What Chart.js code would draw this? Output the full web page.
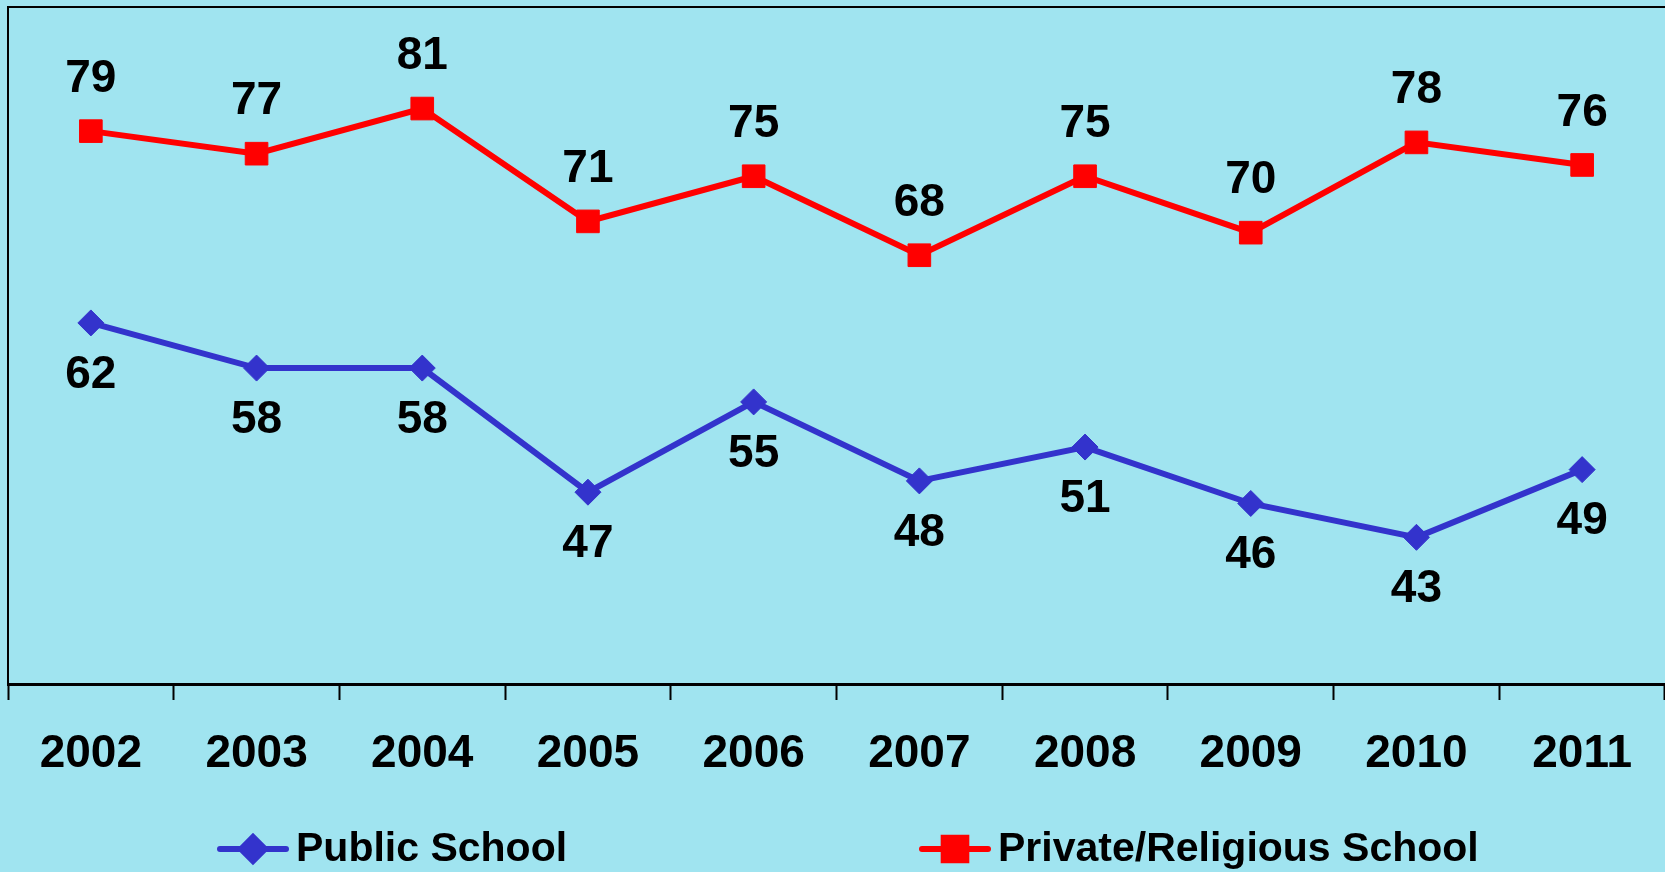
<!DOCTYPE html>
<html>
<head>
<meta charset="utf-8">
<script src="https://cdn.jsdelivr.net/npm/chart.js@4/dist/chart.umd.min.js"></script>
<style>
  html, body { margin: 0; padding: 0; background: #A0E4F0; }
  #wrap { width: 1665px; height: 872px; position: relative; }
</style>
</head>
<body>
<div id="wrap"><canvas id="chart"></canvas></div>
<script>
'use strict';

// chart values
var years = ['2002', '2003', '2004', '2005', '2006', '2007', '2008', '2009', '2010', '2011'];
var publicSchool = [62, 58, 58, 47, 55, 48, 51, 46, 43, 49];
var privateSchool = [79, 77, 81, 71, 75, 68, 75, 70, 78, 76];
var seriesNames = ['Public School', 'Private/Religious School'];

var FONT = '"Liberation Sans", Arial, sans-serif';

// value labels above / below each point
var valueLabels = {
	id: 'valueLabels',
	afterDatasetsDraw: function (chart) {
		var ctx = chart.ctx;
		ctx.save();
		ctx.font = 'bold 46px ' + FONT;
		ctx.fillStyle = '#000';
		ctx.textAlign = 'center';
		ctx.textBaseline = 'middle';
		chart.data.datasets.forEach(function (ds, i) {
			var meta = chart.getDatasetMeta(i);
			meta.data.forEach(function (pt, j) {
				ctx.fillText(String(ds.data[j]), pt.x, pt.y + ds.labelOffset);
			});
		});
		ctx.restore();
	}
};

// legend drawn along the bottom, like the original sheet
var bottomLegend = {
	id: 'bottomLegend',
	afterDraw: function (chart) {
		var ctx = chart.ctx;
		var spots = [220, 922];
		var y = 849;
		ctx.save();
		chart.data.datasets.forEach(function (ds, i) {
			var x = spots[i];
			ctx.strokeStyle = ds.borderColor;
			ctx.lineWidth = 6;
			ctx.lineCap = 'round';
			ctx.beginPath();
			ctx.moveTo(x, y);
			ctx.lineTo(x + 66, y);
			ctx.stroke();
			Chart.helpers.drawPoint(ctx, {
				pointStyle: ds.pointStyle,
				radius: ds.pointStyle === 'rect' ? 16 : 12,
				borderWidth: 1
			}, x + 33, y);
			ctx.fillStyle = ds.borderColor;
			ctx.fill();
			ctx.fillStyle = '#000';
			ctx.font = 'bold 41px ' + FONT;
			ctx.textAlign = 'left';
			ctx.textBaseline = 'middle';
			ctx.fillText(ds.label, x + 76, y + 1);
		});
		ctx.restore();
	}
};

new Chart(document.getElementById('chart'), {
	type: 'line',
	data: {
		labels: years,
		datasets: [{
			label: seriesNames[0],
			data: publicSchool,
			borderColor: '#3333CC',
			backgroundColor: '#3333CC',
			borderWidth: 6,
			pointStyle: 'rectRot',
			pointRadius: 13,
			pointHoverRadius: 13,
			pointBorderWidth: 1,
			labelOffset: 52,
			tension: 0
		}, {
			label: seriesNames[1],
			data: privateSchool,
			borderColor: '#FF0000',
			backgroundColor: '#FF0000',
			borderWidth: 6,
			pointStyle: 'rect',
			pointRadius: 16,
			pointHoverRadius: 16,
			pointBorderWidth: 1,
			labelOffset: -52,
			tension: 0
		}]
	},
	options: {
		responsive: true,
		maintainAspectRatio: false,
		animation: false,
		layout: { padding: 0, autoPadding: false },
		plugins: {
			legend: { display: false },
			tooltip: { enabled: false }
		},
		scales: {
			x: {
				position: 'bottom',
				offset: true,
				grid: {
					offset: true,
					drawOnChartArea: false,
					drawTicks: true,
					tickLength: 16,
					tickColor: '#000',
					tickWidth: 2
				},
				border: { display: true, color: '#000', width: 3 },
				ticks: {
					color: '#000',
					font: { family: FONT, size: 46, weight: 'bold' },
					padding: 27,
					maxRotation: 0,
					autoSkip: false
				},
				afterFit: function (s) { s.height = 188; }
			},
			xTop: {
				type: 'category',
				labels: years,
				position: 'top',
				offset: true,
				grid: { display: false },
				border: { display: true, color: '#000', width: 2 },
				ticks: { display: false },
				afterFit: function (s) { s.height = 7; }
			},
			y: {
				min: 30,
				max: 90,
				grid: { display: false },
				border: { display: true, color: '#000', width: 2 },
				ticks: { display: false },
				afterFit: function (s) { s.width = 8; }
			}
		}
	},
	plugins: [valueLabels, bottomLegend]
});
</script>
</body>
</html>
